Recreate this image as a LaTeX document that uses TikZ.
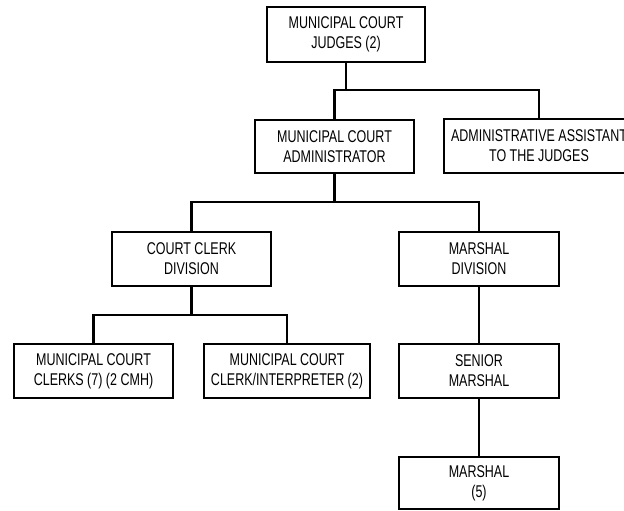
\documentclass[tikz,border=0pt]{standalone}
\usepackage{fontspec}
\setmainfont{Liberation Sans}[FakeStretch=0.735]
\begin{document}
\begin{tikzpicture}[x=1bp,y=-1bp,
  orgbox/.style={draw=black, line width=2.4bp, fill=white, align=center, inner sep=0pt,
    minimum height=54bp, font=\fontsize{17bp}{20bp}\selectfont},
  conn/.style={line width=2.2bp, draw=black}]
\useasboundingbox (0,0) rectangle (624,511);
\clip (0,0) rectangle (624,511);
\fill[white] (0,0) rectangle (624,511);
% nodes
\node[orgbox, minimum width=158bp, minimum height=55bp] (judges) at (346,34.5) {MUNICIPAL COURT\\JUDGES (2)};
\node[orgbox, minimum width=159bp, minimum height=53bp] (admin) at (334.5,146.5) {MUNICIPAL COURT\\ADMINISTRATOR};
\node[orgbox, minimum width=190bp] (assist) at (539,146) {ADMINISTRATIVE ASSISTANT\\TO THE JUDGES};
\node[orgbox, minimum width=159bp] (clerkdiv) at (191.5,259) {COURT CLERK\\DIVISION};
\node[orgbox, minimum width=160bp] (marshdiv) at (479,259) {MARSHAL\\DIVISION};
\node[orgbox, minimum width=159bp] (clerks) at (93.5,371) {MUNICIPAL COURT\\CLERKS (7) (2 CMH)};
\node[orgbox, minimum width=166bp] (interp) at (287,371) {MUNICIPAL COURT\\CLERK/INTERPRETER (2)};
\node[orgbox, minimum width=160bp] (senior) at (479,371) {SENIOR\\MARSHAL};
\node[orgbox, minimum width=160bp, minimum height=52bp] (marshal) at (479,483) {MARSHAL\\(5)};
% connectors
\coordinate (j1) at (346,90);
\coordinate (a1) at (334.5,202);
\coordinate (c1) at (191.5,315);
\draw[conn] (judges.south) -- (j1);
\draw[conn] (admin.north) |- (j1) -| (assist.north);
\draw[conn] (admin.south) -- (a1);
\draw[conn] (clerkdiv.north) |- (a1) -| (marshdiv.north);
\draw[conn] (clerkdiv.south) -- (c1);
\draw[conn] (clerks.north) |- (c1) -| (interp.north);
\draw[conn] (marshdiv.south) -- (senior.north);
\draw[conn] (senior.south) -- (marshal.north);
\end{tikzpicture}
\end{document}
